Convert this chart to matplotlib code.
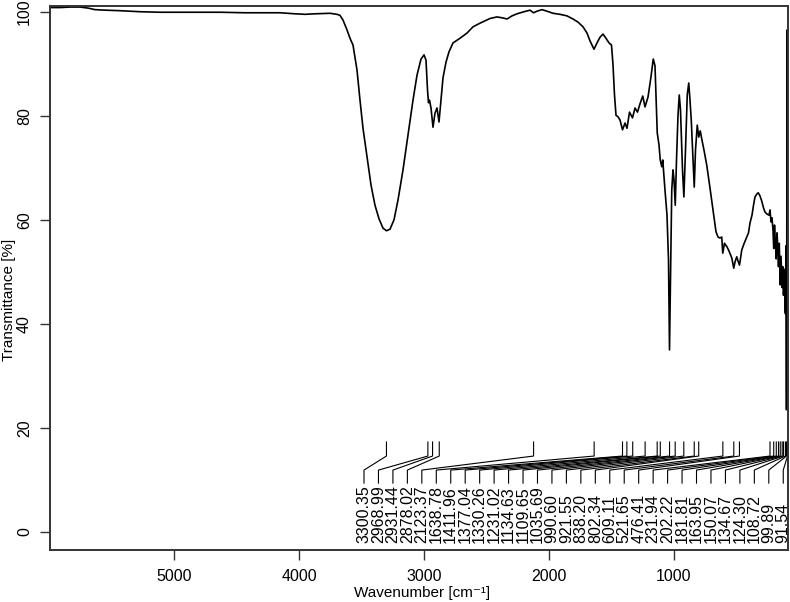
import numpy as np
import matplotlib
matplotlib.use('Agg')
import matplotlib.pyplot as plt

plt.rcParams['font.family'] = ['Liberation Sans', 'DejaVu Sans']

# spectrum (wavenumber in cm-1, transmittance in %)
wavenumber = [5992, 5912, 5832, 5752, 5688, 5632, 5552, 5432, 5272, 5112, 4952, 4792,
              4632, 4432, 4272, 4152, 4032, 3952, 3872, 3752, 3696, 3672, 3648, 3616,
              3592, 3568, 3536, 3512, 3488, 3456, 3424, 3392, 3360, 3328, 3300, 3272,
              3240, 3208, 3168, 3128, 3088, 3056, 3024, 3000, 2984, 2972, 2964, 2956,
              2944, 2928, 2912, 2896, 2880, 2864, 2848, 2824, 2800, 2768, 2712, 2656,
              2608, 2552, 2472, 2416, 2368, 2336, 2296, 2256, 2200, 2152, 2124, 2096,
              2056, 2016, 1968, 1912, 1856, 1808, 1768, 1728, 1696, 1672, 1640, 1616,
              1592, 1568, 1544, 1520, 1500, 1488, 1476, 1464, 1448, 1432, 1412, 1392,
              1376, 1356, 1332, 1312, 1292, 1272, 1250, 1232, 1208, 1184, 1166, 1152,
              1140, 1134, 1120, 1110, 1098, 1090, 1072, 1056, 1044, 1036, 1026, 1018,
              1008, 1000, 990, 980, 968, 958, 948, 932, 921, 908, 894, 882,
              872, 862, 848, 838, 828, 814, 802, 790, 776, 760, 738, 712,
              686, 664, 648, 632, 618, 610, 596, 576, 560, 538, 522, 512,
              498, 488, 476, 458, 440, 418, 404, 392, 376, 364, 352, 336,
              326, 312, 298, 284, 272, 256, 240, 232, 224, 216, 208, 202,
              196, 190, 182, 176, 170, 164, 158, 150, 144, 135, 130, 124,
              118, 109, 104, 100, 95, 91.5, 88]
transmittance = [100.8, 100.8, 100.9, 100.9, 100.7, 100.4, 100.3, 100.2, 100.0, 99.9, 99.9, 99.9,
                 99.9, 99.8, 99.8, 99.8, 99.6, 99.5, 99.6, 99.7, 99.5, 99.3, 98.4, 96.5,
                 94.9, 93.6, 88.8, 83.0, 77.6, 72.1, 66.7, 62.8, 60.2, 58.4, 57.9, 58.2,
                 60.0, 63.8, 69.6, 76.3, 83.0, 87.8, 90.9, 91.7, 90.7, 85.0, 82.5, 83.0,
                 81.5, 77.8, 80.5, 81.5, 78.8, 83.0, 87.3, 90.3, 92.3, 94.0, 94.9, 95.9,
                 97.1, 97.8, 98.7, 99.0, 98.8, 98.6, 99.2, 99.6, 100.0, 100.3, 99.8, 100.1,
                 100.4, 100.1, 99.7, 99.5, 99.2, 98.6, 98.0, 97.1, 95.9, 94.4, 92.8, 94.0,
                 95.1, 95.7, 94.9, 94.0, 93.6, 89.8, 84.0, 80.1, 79.8, 79.2, 77.3, 78.6,
                 77.6, 80.7, 79.6, 81.5, 80.7, 82.3, 83.8, 81.7, 83.6, 87.5, 90.9, 89.6,
                 81.1, 76.7, 74.4, 71.5, 70.2, 71.5, 65.7, 60.9, 52.3, 35.0, 52.3, 65.7,
                 69.6, 67.7, 62.8, 71.5, 80.1, 84.0, 81.1, 69.6, 64.4, 73.4, 84.0, 86.3,
                 83.0, 79.2, 71.5, 66.3, 73.4, 78.2, 75.9, 77.1, 75.3, 73.4, 70.5, 66.1,
                 61.5, 57.7, 56.7, 56.5, 56.7, 53.6, 55.5, 54.8, 54.0, 52.7, 50.7, 51.9,
                 52.9, 52.1, 51.3, 54.2, 55.4, 56.7, 57.5, 59.4, 60.9, 62.8, 64.4, 65.0,
                 65.2, 64.6, 63.6, 62.3, 61.5, 61.1, 60.9, 61.9, 59.6, 60.4, 58.0, 54.5,
                 59.0, 56.0, 52.5, 57.5, 55.0, 51.0, 55.5, 47.5, 53.0, 47.0, 51.0, 45.5,
                 50.5, 42.0, 55.0, 23.5, 96.5, 40.0, 60.0]

# picked peaks
peaks = [3300.35, 2968.99, 2931.44, 2878.02, 2123.37, 1638.78, 1411.96, 1377.04,
         1330.26, 1231.02, 1134.63, 1109.65, 1035.69, 990.60, 921.55, 838.20,
         802.34, 609.11, 521.65, 476.41, 231.94, 202.22, 181.81, 163.95,
         150.07, 134.67, 124.30, 108.72, 99.89, 91.54]

x_ticks = [5000, 4000, 3000, 2000, 1000]
y_ticks = [0, 20, 40, 60, 80, 100]

fig = plt.figure(figsize=(7.9, 6.02), dpi=100)
ax = fig.add_axes([50 / 790, 52 / 602, 738 / 790, 544 / 602])

ax.plot(wavenumber, transmittance, color='black', lw=1.2)

# labels spread evenly under the spectrum, joined to the peaks by leader lines
label_x = np.linspace(3480, 126, len(peaks))
for p, lx in zip(peaks, label_x):
    ax.plot([p, p, lx, lx], [17.3, 14.6, 11.9, 9.4], color='black', lw=0.8)
    ax.text(lx, -2.1, '%.2f' % p, rotation=90, ha='center', va='bottom',
            fontsize=11.5)

ax.set_xlim(5992, 88)
ax.set_ylim(-3.46, 101.1)
ax.set_xticks(x_ticks)
ax.set_yticks(y_ticks)
ax.tick_params(axis='x', length=7, width=1, pad=7, labelsize=11.5, color='#333333')
ax.tick_params(axis='y', length=7, width=1, pad=6, labelsize=11.5, color='#333333',
               labelrotation=90)
for lab in ax.get_yticklabels():
    lab.set_va('center')
for s in ax.spines.values():
    s.set_linewidth(1.4)
    s.set_color('#333333')

fig.text(422 / 790, 1 - 593 / 602, 'Wavenumber [cm⁻¹]', fontsize=11,
         ha='center', va='center')
fig.text(9 / 790, 1 - 300 / 602, 'Transmittance [%]', fontsize=11,
         rotation=90, ha='center', va='center')

fig.savefig('out.png', dpi=100)
